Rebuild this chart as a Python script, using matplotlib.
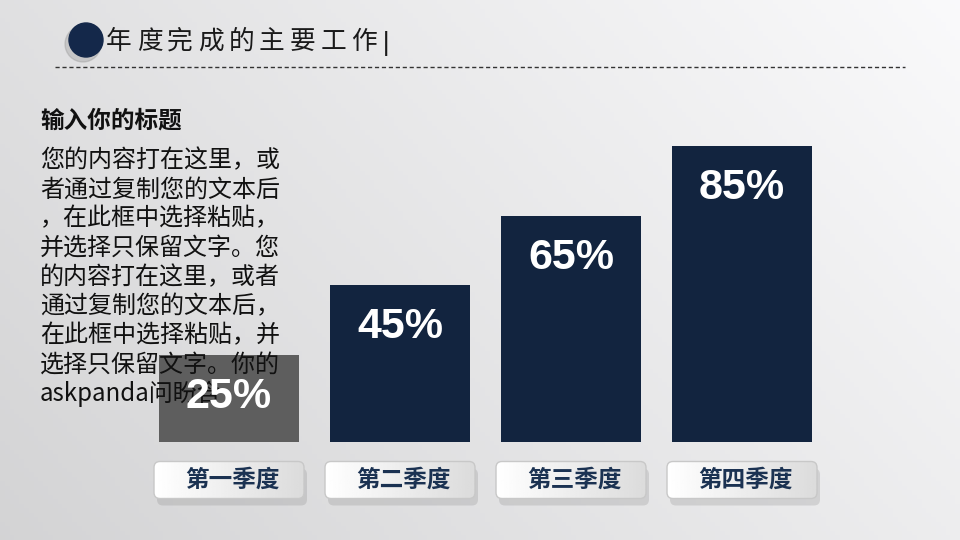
import numpy as np
import matplotlib.pyplot as plt
from matplotlib.patches import Circle, FancyBboxPatch

plt.rcParams['font.family'] = ['Noto Sans CJK SC', 'DejaVu Sans']

quarters = ['第一季度', '第二季度', '第三季度', '第四季度']
values = [25, 45, 65, 85]
bar_colors = ['#5e5e5e', '#12243f', '#12243f', '#12243f']

title = '年度完成的主要工作'
heading = '输入你的标题'
body_lines = [
    '您的内容打在这里，或',
    '者通过复制您的文本后',
    '，在此框中选择粘贴，',
    '并选择只保留文字。您',
    '的内容打在这里，或者',
    '通过复制您的文本后，',
    '在此框中选择粘贴，并',
    '选择只保留文字。你的',
    'askpanda问盼含',
]

W, H = 960, 540
fig = plt.figure(figsize=(W / 100, H / 100), dpi=100)

# background in pixel coordinates (y down)
bg = fig.add_axes([0, 0, 1, 1], zorder=0)
bg.set_xlim(0, W)
bg.set_ylim(H, 0)
bg.axis('off')
gx = np.linspace(0, 1, 200)
gy = np.linspace(0, 1, 120)
X, Y = np.meshgrid(gx, gy)
shade = np.clip(0.83 + 0.10 * X + 0.05 * (1 - Y), 0, 1)
bg.imshow(np.dstack([shade, shade, (shade + 0.005).clip(0, 1)]), extent=[0, W, H, 0],
          aspect='auto', zorder=0)

# header
bg.add_patch(Circle((83, 44), 18, color='#8a8a8a', alpha=0.3, zorder=1))
bg.add_patch(Circle((86, 40), 17, color='#14284a', zorder=2))
for k, ch in enumerate(title):
    bg.text(106 + k * 30.6, 42, ch, fontsize=18.5, color='#1a1a1a', va='center', ha='left')
bg.text(382, 43, '|', fontsize=18, color='#1a1a1a', va='center', ha='left',
        family='DejaVu Sans')
bg.plot([55, 905], [67, 67], color='#333333', lw=1, dashes=(3, 2))

# bars
slot = 171
ax = fig.add_axes([(229 - slot / 2) / W, 98 / H, 4 * slot / W, 348 / H], zorder=1)
ax.patch.set_alpha(0)
x = np.arange(len(values))
ax.bar(x, values, width=140 / slot, color=bar_colors, zorder=1)
ax.set_xlim(-0.5, 3.5)
ax.set_ylim(0, 100)
ax.axis('off')

# left text block (between bars and percent labels)
ax.text(40 / W, 1 - 121 / H, heading, transform=fig.transFigure, fontsize=17,
        fontweight='bold', color='#111111', va='center', ha='left', zorder=2)
for k, line in enumerate(body_lines):
    ax.text(40 / W, 1 - (160 + k * 29.2) / H, line, transform=fig.transFigure,
            fontsize=17.3, color='#111111', va='center', ha='left', zorder=2)

for i, v in enumerate(values):
    ax.annotate(f'{v}%', xy=(i, v), xytext=(0, -42), textcoords='offset pixels',
                ha='center', va='center', color='white', fontsize=31,
                fontweight='bold', family='Liberation Sans', zorder=3)

# quarter label boxes
fig.canvas.draw()
grad = np.linspace(1.0, 0.86, 100).reshape(1, -1)
for i, q in enumerate(quarters):
    cx = ax.transData.transform((i, 0))[0]
    cy = 480
    bw, bh = 150, 37
    bg.add_patch(FancyBboxPatch((cx - bw / 2 + 3, cy - bh / 2 + 7), bw, bh,
                                boxstyle='round,pad=0,rounding_size=6',
                                fc='#7a7a7a', ec='none', alpha=0.22, zorder=3))
    box = FancyBboxPatch((cx - bw / 2, cy - bh / 2), bw, bh,
                         boxstyle='round,pad=0,rounding_size=6',
                         fc='none', ec='#c8c8c8', lw=1, zorder=5)
    bg.add_patch(box)
    im = bg.imshow(grad, cmap='gray', vmin=0, vmax=1,
                   extent=[cx - bw / 2, cx + bw / 2, cy + bh / 2, cy - bh / 2],
                   aspect='auto', zorder=4)
    im.set_clip_path(box)
    bg.text(cx + 3, cy, q, fontsize=17, fontweight='heavy', color='#1b3252',
            ha='center', va='center', zorder=6)

bg.set_xlim(0, W)
bg.set_ylim(H, 0)

fig.savefig('out.png', dpi=100)
